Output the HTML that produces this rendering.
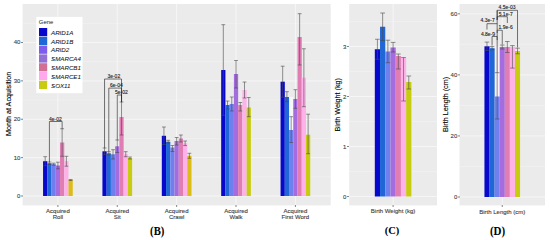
<!DOCTYPE html><html><head><meta charset="utf-8"><style>html,body{margin:0;padding:0;background:#fff;}svg{display:block;}</style></head><body>
<svg width="550" height="240" viewBox="0 0 550 240">
<rect x="0.00" y="0.00" width="550.00" height="240.00" fill="#FFFFFF" />
<rect x="22.60" y="4.00" width="308.10" height="201.40" fill="#EBEBEB" />
<line x1="22.60" y1="176.81" x2="330.70" y2="176.81" stroke="#F7F7F7" stroke-width="0.45" />
<line x1="22.60" y1="138.44" x2="330.70" y2="138.44" stroke="#F7F7F7" stroke-width="0.45" />
<line x1="22.60" y1="100.06" x2="330.70" y2="100.06" stroke="#F7F7F7" stroke-width="0.45" />
<line x1="22.60" y1="61.69" x2="330.70" y2="61.69" stroke="#F7F7F7" stroke-width="0.45" />
<line x1="22.60" y1="23.31" x2="330.70" y2="23.31" stroke="#F7F7F7" stroke-width="0.45" />
<line x1="22.60" y1="196.00" x2="330.70" y2="196.00" stroke="#F7F7F7" stroke-width="0.9" />
<line x1="22.60" y1="157.62" x2="330.70" y2="157.62" stroke="#F7F7F7" stroke-width="0.9" />
<line x1="22.60" y1="119.25" x2="330.70" y2="119.25" stroke="#F7F7F7" stroke-width="0.9" />
<line x1="22.60" y1="80.88" x2="330.70" y2="80.88" stroke="#F7F7F7" stroke-width="0.9" />
<line x1="22.60" y1="42.50" x2="330.70" y2="42.50" stroke="#F7F7F7" stroke-width="0.9" />
<line x1="57.90" y1="4.00" x2="57.90" y2="205.40" stroke="#F7F7F7" stroke-width="0.9" />
<line x1="117.28" y1="4.00" x2="117.28" y2="205.40" stroke="#F7F7F7" stroke-width="0.9" />
<line x1="176.65" y1="4.00" x2="176.65" y2="205.40" stroke="#F7F7F7" stroke-width="0.9" />
<line x1="236.03" y1="4.00" x2="236.03" y2="205.40" stroke="#F7F7F7" stroke-width="0.9" />
<line x1="295.40" y1="4.00" x2="295.40" y2="205.40" stroke="#F7F7F7" stroke-width="0.9" />
<rect x="289.04" y="97.00" width="4.24" height="33.00" fill="#F7F6F9" />
<rect x="43.06" y="161.20" width="4.24" height="34.80" fill="#0808CC" />
<rect x="47.30" y="163.20" width="4.24" height="32.80" fill="#1F66D6" />
<rect x="51.54" y="164.20" width="4.24" height="31.80" fill="#6F80EE" />
<rect x="55.78" y="165.50" width="4.24" height="30.50" fill="#A46CDF" />
<rect x="60.02" y="142.50" width="4.24" height="53.50" fill="#E07EB4" />
<rect x="64.26" y="161.20" width="4.24" height="34.80" fill="#FFB2EA" />
<rect x="68.50" y="180.00" width="4.24" height="16.00" fill="#DCBC16" />
<line x1="45.18" y1="156.70" x2="45.18" y2="165.70" stroke="#4A4A4A" stroke-width="0.6" />
<line x1="43.27" y1="156.70" x2="47.09" y2="156.70" stroke="#4A4A4A" stroke-width="0.6" />
<line x1="43.27" y1="165.70" x2="47.09" y2="165.70" stroke="#4A4A4A" stroke-width="0.6" />
<line x1="49.42" y1="162.00" x2="49.42" y2="164.50" stroke="#4A4A4A" stroke-width="0.6" />
<line x1="47.51" y1="162.00" x2="51.33" y2="162.00" stroke="#4A4A4A" stroke-width="0.6" />
<line x1="47.51" y1="164.50" x2="51.33" y2="164.50" stroke="#4A4A4A" stroke-width="0.6" />
<line x1="53.66" y1="163.20" x2="53.66" y2="165.20" stroke="#4A4A4A" stroke-width="0.6" />
<line x1="51.75" y1="163.20" x2="55.57" y2="163.20" stroke="#4A4A4A" stroke-width="0.6" />
<line x1="51.75" y1="165.20" x2="55.57" y2="165.20" stroke="#4A4A4A" stroke-width="0.6" />
<line x1="57.90" y1="162.20" x2="57.90" y2="168.80" stroke="#4A4A4A" stroke-width="0.6" />
<line x1="55.99" y1="162.20" x2="59.81" y2="162.20" stroke="#4A4A4A" stroke-width="0.6" />
<line x1="55.99" y1="168.80" x2="59.81" y2="168.80" stroke="#4A4A4A" stroke-width="0.6" />
<line x1="62.14" y1="128.75" x2="62.14" y2="156.25" stroke="#4A4A4A" stroke-width="0.6" />
<line x1="60.23" y1="128.75" x2="64.05" y2="128.75" stroke="#4A4A4A" stroke-width="0.6" />
<line x1="60.23" y1="156.25" x2="64.05" y2="156.25" stroke="#4A4A4A" stroke-width="0.6" />
<line x1="66.38" y1="156.30" x2="66.38" y2="166.20" stroke="#4A4A4A" stroke-width="0.6" />
<line x1="64.47" y1="156.30" x2="68.29" y2="156.30" stroke="#4A4A4A" stroke-width="0.6" />
<line x1="64.47" y1="166.20" x2="68.29" y2="166.20" stroke="#4A4A4A" stroke-width="0.6" />
<line x1="70.62" y1="179.50" x2="70.62" y2="180.50" stroke="#4A4A4A" stroke-width="0.6" />
<line x1="68.71" y1="179.50" x2="72.53" y2="179.50" stroke="#4A4A4A" stroke-width="0.6" />
<line x1="68.71" y1="180.50" x2="72.53" y2="180.50" stroke="#4A4A4A" stroke-width="0.6" />
<rect x="102.43" y="151.30" width="4.24" height="44.70" fill="#0808CC" />
<rect x="106.67" y="153.30" width="4.24" height="42.70" fill="#1F66D6" />
<rect x="110.91" y="154.30" width="4.24" height="41.70" fill="#6F80EE" />
<rect x="115.15" y="146.30" width="4.24" height="49.70" fill="#A46CDF" />
<rect x="119.40" y="117.00" width="4.24" height="79.00" fill="#E07EB4" />
<rect x="123.64" y="154.20" width="4.24" height="41.80" fill="#FFB2EA" />
<rect x="127.88" y="158.00" width="4.24" height="38.00" fill="#C8CC10" />
<line x1="104.55" y1="148.00" x2="104.55" y2="154.60" stroke="#4A4A4A" stroke-width="0.6" />
<line x1="102.64" y1="148.00" x2="106.46" y2="148.00" stroke="#4A4A4A" stroke-width="0.6" />
<line x1="102.64" y1="154.60" x2="106.46" y2="154.60" stroke="#4A4A4A" stroke-width="0.6" />
<line x1="108.79" y1="151.70" x2="108.79" y2="155.00" stroke="#4A4A4A" stroke-width="0.6" />
<line x1="106.88" y1="151.70" x2="110.70" y2="151.70" stroke="#4A4A4A" stroke-width="0.6" />
<line x1="106.88" y1="155.00" x2="110.70" y2="155.00" stroke="#4A4A4A" stroke-width="0.6" />
<line x1="113.03" y1="149.70" x2="113.03" y2="159.00" stroke="#4A4A4A" stroke-width="0.6" />
<line x1="111.13" y1="149.70" x2="114.94" y2="149.70" stroke="#4A4A4A" stroke-width="0.6" />
<line x1="111.13" y1="159.00" x2="114.94" y2="159.00" stroke="#4A4A4A" stroke-width="0.6" />
<line x1="117.28" y1="140.00" x2="117.28" y2="152.50" stroke="#4A4A4A" stroke-width="0.6" />
<line x1="115.37" y1="140.00" x2="119.18" y2="140.00" stroke="#4A4A4A" stroke-width="0.6" />
<line x1="115.37" y1="152.50" x2="119.18" y2="152.50" stroke="#4A4A4A" stroke-width="0.6" />
<line x1="121.52" y1="102.00" x2="121.52" y2="135.00" stroke="#4A4A4A" stroke-width="0.6" />
<line x1="119.61" y1="102.00" x2="123.42" y2="102.00" stroke="#4A4A4A" stroke-width="0.6" />
<line x1="119.61" y1="135.00" x2="123.42" y2="135.00" stroke="#4A4A4A" stroke-width="0.6" />
<line x1="125.76" y1="151.70" x2="125.76" y2="156.70" stroke="#4A4A4A" stroke-width="0.6" />
<line x1="123.85" y1="151.70" x2="127.67" y2="151.70" stroke="#4A4A4A" stroke-width="0.6" />
<line x1="123.85" y1="156.70" x2="127.67" y2="156.70" stroke="#4A4A4A" stroke-width="0.6" />
<line x1="130.00" y1="157.00" x2="130.00" y2="159.00" stroke="#4A4A4A" stroke-width="0.6" />
<line x1="128.09" y1="157.00" x2="131.91" y2="157.00" stroke="#4A4A4A" stroke-width="0.6" />
<line x1="128.09" y1="159.00" x2="131.91" y2="159.00" stroke="#4A4A4A" stroke-width="0.6" />
<rect x="161.81" y="135.80" width="4.24" height="60.20" fill="#0808CC" />
<rect x="166.05" y="141.70" width="4.24" height="54.30" fill="#1F66D6" />
<rect x="170.29" y="147.50" width="4.24" height="48.50" fill="#6F80EE" />
<rect x="174.53" y="141.00" width="4.24" height="55.00" fill="#A46CDF" />
<rect x="178.77" y="138.50" width="4.24" height="57.50" fill="#E07EB4" />
<rect x="183.01" y="143.30" width="4.24" height="52.70" fill="#FFB2EA" />
<rect x="187.25" y="155.80" width="4.24" height="40.20" fill="#DCBC16" />
<line x1="163.93" y1="127.00" x2="163.93" y2="144.60" stroke="#4A4A4A" stroke-width="0.6" />
<line x1="162.02" y1="127.00" x2="165.84" y2="127.00" stroke="#4A4A4A" stroke-width="0.6" />
<line x1="162.02" y1="144.60" x2="165.84" y2="144.60" stroke="#4A4A4A" stroke-width="0.6" />
<line x1="168.17" y1="140.30" x2="168.17" y2="143.10" stroke="#4A4A4A" stroke-width="0.6" />
<line x1="166.26" y1="140.30" x2="170.08" y2="140.30" stroke="#4A4A4A" stroke-width="0.6" />
<line x1="166.26" y1="143.10" x2="170.08" y2="143.10" stroke="#4A4A4A" stroke-width="0.6" />
<line x1="172.41" y1="145.50" x2="172.41" y2="151.50" stroke="#4A4A4A" stroke-width="0.6" />
<line x1="170.50" y1="145.50" x2="174.32" y2="145.50" stroke="#4A4A4A" stroke-width="0.6" />
<line x1="170.50" y1="151.50" x2="174.32" y2="151.50" stroke="#4A4A4A" stroke-width="0.6" />
<line x1="176.65" y1="137.50" x2="176.65" y2="145.00" stroke="#4A4A4A" stroke-width="0.6" />
<line x1="174.74" y1="137.50" x2="178.56" y2="137.50" stroke="#4A4A4A" stroke-width="0.6" />
<line x1="174.74" y1="145.00" x2="178.56" y2="145.00" stroke="#4A4A4A" stroke-width="0.6" />
<line x1="180.89" y1="135.00" x2="180.89" y2="142.00" stroke="#4A4A4A" stroke-width="0.6" />
<line x1="178.98" y1="135.00" x2="182.80" y2="135.00" stroke="#4A4A4A" stroke-width="0.6" />
<line x1="178.98" y1="142.00" x2="182.80" y2="142.00" stroke="#4A4A4A" stroke-width="0.6" />
<line x1="185.13" y1="141.00" x2="185.13" y2="145.60" stroke="#4A4A4A" stroke-width="0.6" />
<line x1="183.22" y1="141.00" x2="187.04" y2="141.00" stroke="#4A4A4A" stroke-width="0.6" />
<line x1="183.22" y1="145.60" x2="187.04" y2="145.60" stroke="#4A4A4A" stroke-width="0.6" />
<line x1="189.37" y1="153.30" x2="189.37" y2="158.30" stroke="#4A4A4A" stroke-width="0.6" />
<line x1="187.46" y1="153.30" x2="191.28" y2="153.30" stroke="#4A4A4A" stroke-width="0.6" />
<line x1="187.46" y1="158.30" x2="191.28" y2="158.30" stroke="#4A4A4A" stroke-width="0.6" />
<rect x="221.18" y="70.00" width="4.24" height="126.00" fill="#0808CC" />
<rect x="225.42" y="105.00" width="4.24" height="91.00" fill="#1F66D6" />
<rect x="229.66" y="104.00" width="4.24" height="92.00" fill="#6F80EE" />
<rect x="233.90" y="74.00" width="4.24" height="122.00" fill="#A46CDF" />
<rect x="238.15" y="105.00" width="4.24" height="91.00" fill="#E07EB4" />
<rect x="242.39" y="90.00" width="4.24" height="106.00" fill="#FFB2EA" />
<rect x="246.63" y="107.50" width="4.24" height="88.50" fill="#C8CC10" />
<line x1="223.30" y1="24.70" x2="223.30" y2="115.30" stroke="#4A4A4A" stroke-width="0.6" />
<line x1="221.39" y1="24.70" x2="225.21" y2="24.70" stroke="#4A4A4A" stroke-width="0.6" />
<line x1="221.39" y1="115.30" x2="225.21" y2="115.30" stroke="#4A4A4A" stroke-width="0.6" />
<line x1="227.54" y1="101.00" x2="227.54" y2="109.00" stroke="#4A4A4A" stroke-width="0.6" />
<line x1="225.63" y1="101.00" x2="229.45" y2="101.00" stroke="#4A4A4A" stroke-width="0.6" />
<line x1="225.63" y1="109.00" x2="229.45" y2="109.00" stroke="#4A4A4A" stroke-width="0.6" />
<line x1="231.78" y1="97.00" x2="231.78" y2="111.00" stroke="#4A4A4A" stroke-width="0.6" />
<line x1="229.88" y1="97.00" x2="233.69" y2="97.00" stroke="#4A4A4A" stroke-width="0.6" />
<line x1="229.88" y1="111.00" x2="233.69" y2="111.00" stroke="#4A4A4A" stroke-width="0.6" />
<line x1="236.03" y1="60.50" x2="236.03" y2="88.00" stroke="#4A4A4A" stroke-width="0.6" />
<line x1="234.12" y1="60.50" x2="237.93" y2="60.50" stroke="#4A4A4A" stroke-width="0.6" />
<line x1="234.12" y1="88.00" x2="237.93" y2="88.00" stroke="#4A4A4A" stroke-width="0.6" />
<line x1="240.27" y1="102.50" x2="240.27" y2="111.00" stroke="#4A4A4A" stroke-width="0.6" />
<line x1="238.36" y1="102.50" x2="242.17" y2="102.50" stroke="#4A4A4A" stroke-width="0.6" />
<line x1="238.36" y1="111.00" x2="242.17" y2="111.00" stroke="#4A4A4A" stroke-width="0.6" />
<line x1="244.51" y1="82.00" x2="244.51" y2="98.00" stroke="#4A4A4A" stroke-width="0.6" />
<line x1="242.60" y1="82.00" x2="246.42" y2="82.00" stroke="#4A4A4A" stroke-width="0.6" />
<line x1="242.60" y1="98.00" x2="246.42" y2="98.00" stroke="#4A4A4A" stroke-width="0.6" />
<line x1="248.75" y1="97.50" x2="248.75" y2="116.70" stroke="#4A4A4A" stroke-width="0.6" />
<line x1="246.84" y1="97.50" x2="250.66" y2="97.50" stroke="#4A4A4A" stroke-width="0.6" />
<line x1="246.84" y1="116.70" x2="250.66" y2="116.70" stroke="#4A4A4A" stroke-width="0.6" />
<rect x="280.56" y="81.70" width="4.24" height="114.30" fill="#0808CC" />
<rect x="284.80" y="97.00" width="4.24" height="99.00" fill="#1F66D6" />
<rect x="289.04" y="130.00" width="4.24" height="66.00" fill="#6F80EE" />
<rect x="293.28" y="99.00" width="4.24" height="97.00" fill="#A46CDF" />
<rect x="297.52" y="37.00" width="4.24" height="159.00" fill="#E07EB4" />
<rect x="301.76" y="77.70" width="4.24" height="118.30" fill="#FFB2EA" />
<rect x="306.00" y="134.70" width="4.24" height="61.30" fill="#C8CC10" />
<line x1="282.68" y1="66.20" x2="282.68" y2="97.20" stroke="#4A4A4A" stroke-width="0.6" />
<line x1="280.77" y1="66.20" x2="284.59" y2="66.20" stroke="#4A4A4A" stroke-width="0.6" />
<line x1="280.77" y1="97.20" x2="284.59" y2="97.20" stroke="#4A4A4A" stroke-width="0.6" />
<line x1="286.92" y1="91.70" x2="286.92" y2="101.70" stroke="#4A4A4A" stroke-width="0.6" />
<line x1="285.01" y1="91.70" x2="288.83" y2="91.70" stroke="#4A4A4A" stroke-width="0.6" />
<line x1="285.01" y1="101.70" x2="288.83" y2="101.70" stroke="#4A4A4A" stroke-width="0.6" />
<line x1="291.16" y1="116.70" x2="291.16" y2="142.50" stroke="#4A4A4A" stroke-width="0.6" />
<line x1="289.25" y1="116.70" x2="293.07" y2="116.70" stroke="#4A4A4A" stroke-width="0.6" />
<line x1="289.25" y1="142.50" x2="293.07" y2="142.50" stroke="#4A4A4A" stroke-width="0.6" />
<line x1="295.40" y1="89.70" x2="295.40" y2="108.30" stroke="#4A4A4A" stroke-width="0.6" />
<line x1="293.49" y1="89.70" x2="297.31" y2="89.70" stroke="#4A4A4A" stroke-width="0.6" />
<line x1="293.49" y1="108.30" x2="297.31" y2="108.30" stroke="#4A4A4A" stroke-width="0.6" />
<line x1="299.64" y1="13.70" x2="299.64" y2="65.00" stroke="#4A4A4A" stroke-width="0.6" />
<line x1="297.73" y1="13.70" x2="301.55" y2="13.70" stroke="#4A4A4A" stroke-width="0.6" />
<line x1="297.73" y1="65.00" x2="301.55" y2="65.00" stroke="#4A4A4A" stroke-width="0.6" />
<line x1="303.88" y1="48.75" x2="303.88" y2="106.70" stroke="#4A4A4A" stroke-width="0.6" />
<line x1="301.97" y1="48.75" x2="305.79" y2="48.75" stroke="#4A4A4A" stroke-width="0.6" />
<line x1="301.97" y1="106.70" x2="305.79" y2="106.70" stroke="#4A4A4A" stroke-width="0.6" />
<line x1="308.12" y1="114.20" x2="308.12" y2="153.70" stroke="#4A4A4A" stroke-width="0.6" />
<line x1="306.21" y1="114.20" x2="310.03" y2="114.20" stroke="#4A4A4A" stroke-width="0.6" />
<line x1="306.21" y1="153.70" x2="310.03" y2="153.70" stroke="#4A4A4A" stroke-width="0.6" />
<polyline points="49.42,162.00 49.42,121.50 62.14,121.50 62.14,128.80" fill="none" stroke="#2A2A2A" stroke-width="0.65"/>
<text x="55.50" y="120.60" font-family="Liberation Sans, sans-serif" font-size="5.0" text-anchor="middle" fill="#222" stroke="#222" stroke-width="0.12" >4e-02</text>
<polyline points="104.55,148.00 104.55,79.00 121.52,79.00 121.52,102.00" fill="none" stroke="#2A2A2A" stroke-width="0.65"/>
<text x="113.80" y="78.00" font-family="Liberation Sans, sans-serif" font-size="5.0" text-anchor="middle" fill="#222" stroke="#222" stroke-width="0.12" >3e-02</text>
<polyline points="108.79,151.70 108.79,88.10 121.52,88.10 121.52,102.00" fill="none" stroke="#2A2A2A" stroke-width="0.65"/>
<text x="116.40" y="87.40" font-family="Liberation Sans, sans-serif" font-size="5.0" text-anchor="middle" fill="#222" stroke="#222" stroke-width="0.12" >6e-04</text>
<polyline points="117.28,140.00 117.28,95.00 121.52,95.00 121.52,102.00" fill="none" stroke="#2A2A2A" stroke-width="0.65"/>
<text x="121.50" y="94.30" font-family="Liberation Sans, sans-serif" font-size="5.0" text-anchor="middle" fill="#222" stroke="#222" stroke-width="0.12" >5e-02</text>
<line x1="21.00" y1="196.00" x2="23.00" y2="196.00" stroke="#333" stroke-width="0.6" />
<text x="20.40" y="197.90" font-family="Liberation Sans, sans-serif" font-size="6" text-anchor="end" fill="#3F3F3F" stroke="#3F3F3F" stroke-width="0.12" >0</text>
<line x1="21.00" y1="157.62" x2="23.00" y2="157.62" stroke="#333" stroke-width="0.6" />
<text x="20.40" y="159.53" font-family="Liberation Sans, sans-serif" font-size="6" text-anchor="end" fill="#3F3F3F" stroke="#3F3F3F" stroke-width="0.12" >10</text>
<line x1="21.00" y1="119.25" x2="23.00" y2="119.25" stroke="#333" stroke-width="0.6" />
<text x="20.40" y="121.15" font-family="Liberation Sans, sans-serif" font-size="6" text-anchor="end" fill="#3F3F3F" stroke="#3F3F3F" stroke-width="0.12" >20</text>
<line x1="21.00" y1="80.88" x2="23.00" y2="80.88" stroke="#333" stroke-width="0.6" />
<text x="20.40" y="82.78" font-family="Liberation Sans, sans-serif" font-size="6" text-anchor="end" fill="#3F3F3F" stroke="#3F3F3F" stroke-width="0.12" >30</text>
<line x1="21.00" y1="42.50" x2="23.00" y2="42.50" stroke="#333" stroke-width="0.6" />
<text x="20.40" y="44.40" font-family="Liberation Sans, sans-serif" font-size="6" text-anchor="end" fill="#3F3F3F" stroke="#3F3F3F" stroke-width="0.12" >40</text>
<line x1="57.90" y1="205.00" x2="57.90" y2="207.00" stroke="#333" stroke-width="0.6" />
<line x1="117.28" y1="205.00" x2="117.28" y2="207.00" stroke="#333" stroke-width="0.6" />
<line x1="176.65" y1="205.00" x2="176.65" y2="207.00" stroke="#333" stroke-width="0.6" />
<line x1="236.03" y1="205.00" x2="236.03" y2="207.00" stroke="#333" stroke-width="0.6" />
<line x1="295.40" y1="205.00" x2="295.40" y2="207.00" stroke="#333" stroke-width="0.6" />
<text x="57.90" y="212.60" font-family="Liberation Sans, sans-serif" font-size="6" text-anchor="middle" fill="#3F3F3F" stroke="#3F3F3F" stroke-width="0.12" >Acquired</text>
<text x="57.90" y="219.30" font-family="Liberation Sans, sans-serif" font-size="6" text-anchor="middle" fill="#3F3F3F" stroke="#3F3F3F" stroke-width="0.12" >Roll</text>
<text x="117.28" y="212.60" font-family="Liberation Sans, sans-serif" font-size="6" text-anchor="middle" fill="#3F3F3F" stroke="#3F3F3F" stroke-width="0.12" >Acquired</text>
<text x="117.28" y="219.30" font-family="Liberation Sans, sans-serif" font-size="6" text-anchor="middle" fill="#3F3F3F" stroke="#3F3F3F" stroke-width="0.12" >Sit</text>
<text x="176.65" y="212.60" font-family="Liberation Sans, sans-serif" font-size="6" text-anchor="middle" fill="#3F3F3F" stroke="#3F3F3F" stroke-width="0.12" >Acquired</text>
<text x="176.65" y="219.30" font-family="Liberation Sans, sans-serif" font-size="6" text-anchor="middle" fill="#3F3F3F" stroke="#3F3F3F" stroke-width="0.12" >Crawl</text>
<text x="236.03" y="212.60" font-family="Liberation Sans, sans-serif" font-size="6" text-anchor="middle" fill="#3F3F3F" stroke="#3F3F3F" stroke-width="0.12" >Acquired</text>
<text x="236.03" y="219.30" font-family="Liberation Sans, sans-serif" font-size="6" text-anchor="middle" fill="#3F3F3F" stroke="#3F3F3F" stroke-width="0.12" >Walk</text>
<text x="295.40" y="212.60" font-family="Liberation Sans, sans-serif" font-size="6" text-anchor="middle" fill="#3F3F3F" stroke="#3F3F3F" stroke-width="0.12" >Acquired</text>
<text x="295.40" y="219.30" font-family="Liberation Sans, sans-serif" font-size="6" text-anchor="middle" fill="#3F3F3F" stroke="#3F3F3F" stroke-width="0.12" >First Word</text>
<text x="0.00" y="0.00" font-family="Liberation Sans, sans-serif" font-size="7.2" text-anchor="middle" fill="#000" stroke="#000" stroke-width="0.12" transform="translate(10.6,103.8) rotate(-90)">Month at Acquisition</text>
<text x="0.00" y="0.00" font-family="Liberation Serif, sans-serif" font-size="10.7" text-anchor="middle" fill="#000"  font-weight="bold" transform="translate(157.2,234.8) scale(1,1.08)">(B)</text>
<rect x="36.30" y="16.90" width="46.20" height="76.30" fill="#FFFFFF" />
<text x="38.80" y="24.30" font-family="Liberation Sans, sans-serif" font-size="5.9" text-anchor="start" fill="#1A1A1A"  >Gene</text>
<rect x="39.00" y="28.00" width="8.20" height="8.20" fill="#0808CC" />
<text x="51.00" y="34.70" font-family="Liberation Sans, sans-serif" font-size="6.2" text-anchor="start" fill="#111" stroke="#111" stroke-width="0.05" font-style="italic">ARID1A</text>
<rect x="39.00" y="36.80" width="8.20" height="8.20" fill="#1F66D6" />
<text x="51.00" y="43.50" font-family="Liberation Sans, sans-serif" font-size="6.2" text-anchor="start" fill="#111" stroke="#111" stroke-width="0.05" font-style="italic">ARID1B</text>
<rect x="39.00" y="45.60" width="8.20" height="8.20" fill="#7E5CEE" />
<text x="51.00" y="52.30" font-family="Liberation Sans, sans-serif" font-size="6.2" text-anchor="start" fill="#111" stroke="#111" stroke-width="0.05" font-style="italic">ARID2</text>
<rect x="39.00" y="54.40" width="8.20" height="8.20" fill="#9270D8" />
<text x="51.00" y="61.10" font-family="Liberation Sans, sans-serif" font-size="6.2" text-anchor="start" fill="#111" stroke="#111" stroke-width="0.05" font-style="italic">SMARCA4</text>
<rect x="39.00" y="63.20" width="8.20" height="8.20" fill="#D27094" />
<text x="51.00" y="69.90" font-family="Liberation Sans, sans-serif" font-size="6.2" text-anchor="start" fill="#111" stroke="#111" stroke-width="0.05" font-style="italic">SMARCB1</text>
<rect x="39.00" y="72.00" width="8.20" height="8.20" fill="#FFA8EE" />
<text x="51.00" y="78.70" font-family="Liberation Sans, sans-serif" font-size="6.2" text-anchor="start" fill="#111" stroke="#111" stroke-width="0.05" font-style="italic">SMARCE1</text>
<rect x="39.00" y="80.80" width="8.20" height="8.20" fill="#C8CC10" />
<text x="51.00" y="87.50" font-family="Liberation Sans, sans-serif" font-size="6.2" text-anchor="start" fill="#111" stroke="#111" stroke-width="0.05" font-style="italic">SOX11</text>
<rect x="349.20" y="4.00" width="87.80" height="201.40" fill="#EBEBEB" />
<line x1="349.20" y1="171.50" x2="437.00" y2="171.50" stroke="#F7F7F7" stroke-width="0.45" />
<line x1="349.20" y1="121.50" x2="437.00" y2="121.50" stroke="#F7F7F7" stroke-width="0.45" />
<line x1="349.20" y1="71.50" x2="437.00" y2="71.50" stroke="#F7F7F7" stroke-width="0.45" />
<line x1="349.20" y1="21.50" x2="437.00" y2="21.50" stroke="#F7F7F7" stroke-width="0.45" />
<line x1="349.20" y1="196.50" x2="437.00" y2="196.50" stroke="#F7F7F7" stroke-width="0.9" />
<line x1="349.20" y1="146.50" x2="437.00" y2="146.50" stroke="#F7F7F7" stroke-width="0.9" />
<line x1="349.20" y1="96.50" x2="437.00" y2="96.50" stroke="#F7F7F7" stroke-width="0.9" />
<line x1="349.20" y1="46.50" x2="437.00" y2="46.50" stroke="#F7F7F7" stroke-width="0.9" />
<line x1="393.10" y1="4.00" x2="393.10" y2="205.40" stroke="#F7F7F7" stroke-width="0.9" />
<rect x="374.81" y="49.25" width="5.23" height="147.25" fill="#0808CC" />
<rect x="380.03" y="26.75" width="5.23" height="169.75" fill="#1F66D6" />
<rect x="385.26" y="51.50" width="5.23" height="145.00" fill="#6F80EE" />
<rect x="390.49" y="47.50" width="5.23" height="149.00" fill="#A46CDF" />
<rect x="395.71" y="56.00" width="5.23" height="140.50" fill="#E07EB4" />
<rect x="400.94" y="58.00" width="5.23" height="138.50" fill="#FFB2EA" />
<rect x="406.17" y="82.00" width="5.23" height="114.50" fill="#C8CC10" />
<line x1="377.42" y1="39.25" x2="377.42" y2="59.25" stroke="#4A4A4A" stroke-width="0.6" />
<line x1="375.07" y1="39.25" x2="379.77" y2="39.25" stroke="#4A4A4A" stroke-width="0.6" />
<line x1="375.07" y1="59.25" x2="379.77" y2="59.25" stroke="#4A4A4A" stroke-width="0.6" />
<line x1="382.65" y1="13.00" x2="382.65" y2="40.50" stroke="#4A4A4A" stroke-width="0.6" />
<line x1="380.30" y1="13.00" x2="385.00" y2="13.00" stroke="#4A4A4A" stroke-width="0.6" />
<line x1="380.30" y1="40.50" x2="385.00" y2="40.50" stroke="#4A4A4A" stroke-width="0.6" />
<line x1="387.87" y1="40.20" x2="387.87" y2="62.70" stroke="#4A4A4A" stroke-width="0.6" />
<line x1="385.52" y1="40.20" x2="390.23" y2="40.20" stroke="#4A4A4A" stroke-width="0.6" />
<line x1="385.52" y1="62.70" x2="390.23" y2="62.70" stroke="#4A4A4A" stroke-width="0.6" />
<line x1="393.10" y1="42.40" x2="393.10" y2="52.00" stroke="#4A4A4A" stroke-width="0.6" />
<line x1="390.75" y1="42.40" x2="395.45" y2="42.40" stroke="#4A4A4A" stroke-width="0.6" />
<line x1="390.75" y1="52.00" x2="395.45" y2="52.00" stroke="#4A4A4A" stroke-width="0.6" />
<line x1="398.33" y1="54.00" x2="398.33" y2="69.00" stroke="#4A4A4A" stroke-width="0.6" />
<line x1="395.97" y1="54.00" x2="400.68" y2="54.00" stroke="#4A4A4A" stroke-width="0.6" />
<line x1="395.97" y1="69.00" x2="400.68" y2="69.00" stroke="#4A4A4A" stroke-width="0.6" />
<line x1="403.55" y1="57.50" x2="403.55" y2="101.00" stroke="#4A4A4A" stroke-width="0.6" />
<line x1="401.20" y1="57.50" x2="405.90" y2="57.50" stroke="#4A4A4A" stroke-width="0.6" />
<line x1="401.20" y1="101.00" x2="405.90" y2="101.00" stroke="#4A4A4A" stroke-width="0.6" />
<line x1="408.78" y1="76.00" x2="408.78" y2="89.00" stroke="#4A4A4A" stroke-width="0.6" />
<line x1="406.43" y1="76.00" x2="411.13" y2="76.00" stroke="#4A4A4A" stroke-width="0.6" />
<line x1="406.43" y1="89.00" x2="411.13" y2="89.00" stroke="#4A4A4A" stroke-width="0.6" />
<line x1="347.00" y1="196.50" x2="349.00" y2="196.50" stroke="#333" stroke-width="0.6" />
<text x="346.30" y="198.60" font-family="Liberation Sans, sans-serif" font-size="6" text-anchor="end" fill="#3F3F3F" stroke="#3F3F3F" stroke-width="0.12" >0</text>
<line x1="347.00" y1="146.50" x2="349.00" y2="146.50" stroke="#333" stroke-width="0.6" />
<text x="346.30" y="148.60" font-family="Liberation Sans, sans-serif" font-size="6" text-anchor="end" fill="#3F3F3F" stroke="#3F3F3F" stroke-width="0.12" >1</text>
<line x1="347.00" y1="96.50" x2="349.00" y2="96.50" stroke="#333" stroke-width="0.6" />
<text x="346.30" y="98.60" font-family="Liberation Sans, sans-serif" font-size="6" text-anchor="end" fill="#3F3F3F" stroke="#3F3F3F" stroke-width="0.12" >2</text>
<line x1="347.00" y1="46.50" x2="349.00" y2="46.50" stroke="#333" stroke-width="0.6" />
<text x="346.30" y="48.60" font-family="Liberation Sans, sans-serif" font-size="6" text-anchor="end" fill="#3F3F3F" stroke="#3F3F3F" stroke-width="0.12" >3</text>
<line x1="393.10" y1="205.00" x2="393.10" y2="207.00" stroke="#333" stroke-width="0.6" />
<text x="393.10" y="213.00" font-family="Liberation Sans, sans-serif" font-size="6" text-anchor="middle" fill="#3F3F3F" stroke="#3F3F3F" stroke-width="0.12" >Birth Weight (kg)</text>
<text x="0.00" y="0.00" font-family="Liberation Sans, sans-serif" font-size="7.2" text-anchor="middle" fill="#000" stroke="#000" stroke-width="0.12" transform="translate(340.3,104.8) rotate(-90)">Birth Weight (kg)</text>
<text x="0.00" y="0.00" font-family="Liberation Serif, sans-serif" font-size="10.5" text-anchor="middle" fill="#000"  font-weight="bold" transform="translate(392.0,234.3) scale(1,1.08)">(C)</text>
<rect x="459.50" y="4.00" width="85.50" height="201.40" fill="#EBEBEB" />
<line x1="459.50" y1="166.47" x2="545.00" y2="166.47" stroke="#F7F7F7" stroke-width="0.45" />
<line x1="459.50" y1="105.41" x2="545.00" y2="105.41" stroke="#F7F7F7" stroke-width="0.45" />
<line x1="459.50" y1="44.35" x2="545.00" y2="44.35" stroke="#F7F7F7" stroke-width="0.45" />
<line x1="459.50" y1="197.00" x2="545.00" y2="197.00" stroke="#F7F7F7" stroke-width="0.9" />
<line x1="459.50" y1="135.94" x2="545.00" y2="135.94" stroke="#F7F7F7" stroke-width="0.9" />
<line x1="459.50" y1="74.88" x2="545.00" y2="74.88" stroke="#F7F7F7" stroke-width="0.9" />
<line x1="459.50" y1="13.82" x2="545.00" y2="13.82" stroke="#F7F7F7" stroke-width="0.9" />
<line x1="502.25" y1="4.00" x2="502.25" y2="205.40" stroke="#F7F7F7" stroke-width="0.9" />
<rect x="494.62" y="46.00" width="5.09" height="50.50" fill="#F9F1F6" />
<rect x="484.44" y="46.30" width="5.09" height="150.70" fill="#0808CC" />
<rect x="489.53" y="48.20" width="5.09" height="148.80" fill="#1F66D6" />
<rect x="494.62" y="96.50" width="5.09" height="100.50" fill="#6F80EE" />
<rect x="499.71" y="47.00" width="5.09" height="150.00" fill="#A46CDF" />
<rect x="504.79" y="47.00" width="5.09" height="150.00" fill="#E07EB4" />
<rect x="509.88" y="47.00" width="5.09" height="150.00" fill="#FFB2EA" />
<rect x="514.97" y="51.00" width="5.09" height="146.00" fill="#C8CC10" />
<line x1="486.98" y1="42.10" x2="486.98" y2="50.50" stroke="#4A4A4A" stroke-width="0.6" />
<line x1="484.69" y1="42.10" x2="489.27" y2="42.10" stroke="#4A4A4A" stroke-width="0.6" />
<line x1="484.69" y1="50.50" x2="489.27" y2="50.50" stroke="#4A4A4A" stroke-width="0.6" />
<line x1="492.07" y1="46.60" x2="492.07" y2="49.80" stroke="#4A4A4A" stroke-width="0.6" />
<line x1="489.78" y1="46.60" x2="494.36" y2="46.60" stroke="#4A4A4A" stroke-width="0.6" />
<line x1="489.78" y1="49.80" x2="494.36" y2="49.80" stroke="#4A4A4A" stroke-width="0.6" />
<line x1="497.16" y1="72.70" x2="497.16" y2="119.00" stroke="#4A4A4A" stroke-width="0.6" />
<line x1="494.87" y1="72.70" x2="499.45" y2="72.70" stroke="#4A4A4A" stroke-width="0.6" />
<line x1="494.87" y1="119.00" x2="499.45" y2="119.00" stroke="#4A4A4A" stroke-width="0.6" />
<line x1="502.25" y1="45.00" x2="502.25" y2="49.00" stroke="#4A4A4A" stroke-width="0.6" />
<line x1="499.96" y1="45.00" x2="504.54" y2="45.00" stroke="#4A4A4A" stroke-width="0.6" />
<line x1="499.96" y1="49.00" x2="504.54" y2="49.00" stroke="#4A4A4A" stroke-width="0.6" />
<line x1="507.34" y1="41.50" x2="507.34" y2="52.50" stroke="#4A4A4A" stroke-width="0.6" />
<line x1="505.05" y1="41.50" x2="509.63" y2="41.50" stroke="#4A4A4A" stroke-width="0.6" />
<line x1="505.05" y1="52.50" x2="509.63" y2="52.50" stroke="#4A4A4A" stroke-width="0.6" />
<line x1="512.43" y1="45.60" x2="512.43" y2="68.10" stroke="#4A4A4A" stroke-width="0.6" />
<line x1="510.14" y1="45.60" x2="514.72" y2="45.60" stroke="#4A4A4A" stroke-width="0.6" />
<line x1="510.14" y1="68.10" x2="514.72" y2="68.10" stroke="#4A4A4A" stroke-width="0.6" />
<line x1="517.52" y1="48.20" x2="517.52" y2="53.80" stroke="#4A4A4A" stroke-width="0.6" />
<line x1="515.23" y1="48.20" x2="519.81" y2="48.20" stroke="#4A4A4A" stroke-width="0.6" />
<line x1="515.23" y1="53.80" x2="519.81" y2="53.80" stroke="#4A4A4A" stroke-width="0.6" />
<line x1="497.16" y1="10.30" x2="497.16" y2="72.70" stroke="#2A2A2A" stroke-width="0.65" />
<polyline points="497.16,20.00 497.16,10.30 517.52,10.30 517.52,47.50" fill="none" stroke="#2A2A2A" stroke-width="0.65"/>
<text x="507.00" y="9.30" font-family="Liberation Sans, sans-serif" font-size="5.0" text-anchor="middle" fill="#222" stroke="#222" stroke-width="0.12" >4.5e-03</text>
<polyline points="497.16,20.00 497.16,16.70 507.34,16.70 507.34,23.00" fill="none" stroke="#2A2A2A" stroke-width="0.65"/>
<text x="505.80" y="16.00" font-family="Liberation Sans, sans-serif" font-size="5.0" text-anchor="middle" fill="#222" stroke="#222" stroke-width="0.12" >5.1e-7</text>
<polyline points="486.98,29.50 486.98,23.70 497.16,23.70 497.16,23.70" fill="none" stroke="#2A2A2A" stroke-width="0.65"/>
<text x="487.70" y="21.80" font-family="Liberation Sans, sans-serif" font-size="5.0" text-anchor="middle" fill="#222" stroke="#222" stroke-width="0.12" >4.3e-7</text>
<polyline points="497.16,33.00 497.16,30.20 502.25,30.20 502.25,44.50" fill="none" stroke="#2A2A2A" stroke-width="0.65"/>
<text x="505.60" y="28.50" font-family="Liberation Sans, sans-serif" font-size="5.0" text-anchor="middle" fill="#222" stroke="#222" stroke-width="0.12" >1.9e-6</text>
<polyline points="492.07,45.50 492.07,36.50 497.16,36.50 497.16,40.00" fill="none" stroke="#2A2A2A" stroke-width="0.65"/>
<text x="488.00" y="36.00" font-family="Liberation Sans, sans-serif" font-size="5.0" text-anchor="middle" fill="#222" stroke="#222" stroke-width="0.12" >4.8e-9</text>
<line x1="458.00" y1="197.00" x2="460.00" y2="197.00" stroke="#333" stroke-width="0.6" />
<text x="457.30" y="199.10" font-family="Liberation Sans, sans-serif" font-size="6" text-anchor="end" fill="#3F3F3F" stroke="#3F3F3F" stroke-width="0.12" >0</text>
<line x1="458.00" y1="135.94" x2="460.00" y2="135.94" stroke="#333" stroke-width="0.6" />
<text x="457.30" y="138.04" font-family="Liberation Sans, sans-serif" font-size="6" text-anchor="end" fill="#3F3F3F" stroke="#3F3F3F" stroke-width="0.12" >20</text>
<line x1="458.00" y1="74.88" x2="460.00" y2="74.88" stroke="#333" stroke-width="0.6" />
<text x="457.30" y="76.98" font-family="Liberation Sans, sans-serif" font-size="6" text-anchor="end" fill="#3F3F3F" stroke="#3F3F3F" stroke-width="0.12" >40</text>
<line x1="458.00" y1="13.82" x2="460.00" y2="13.82" stroke="#333" stroke-width="0.6" />
<text x="457.30" y="15.92" font-family="Liberation Sans, sans-serif" font-size="6" text-anchor="end" fill="#3F3F3F" stroke="#3F3F3F" stroke-width="0.12" >60</text>
<line x1="502.25" y1="205.00" x2="502.25" y2="207.00" stroke="#333" stroke-width="0.6" />
<text x="502.25" y="214.00" font-family="Liberation Sans, sans-serif" font-size="6" text-anchor="middle" fill="#3F3F3F" stroke="#3F3F3F" stroke-width="0.12" >Birth Length (cm)</text>
<text x="0.00" y="0.00" font-family="Liberation Sans, sans-serif" font-size="7.2" text-anchor="middle" fill="#000" stroke="#000" stroke-width="0.12" transform="translate(447.8,104.5) rotate(-90)">Birth Length (cm)</text>
<text x="0.00" y="0.00" font-family="Liberation Serif, sans-serif" font-size="11.0" text-anchor="middle" fill="#000"  font-weight="bold" transform="translate(497.5,234.9) scale(1,1.05)">(D)</text>
</svg></body></html>
